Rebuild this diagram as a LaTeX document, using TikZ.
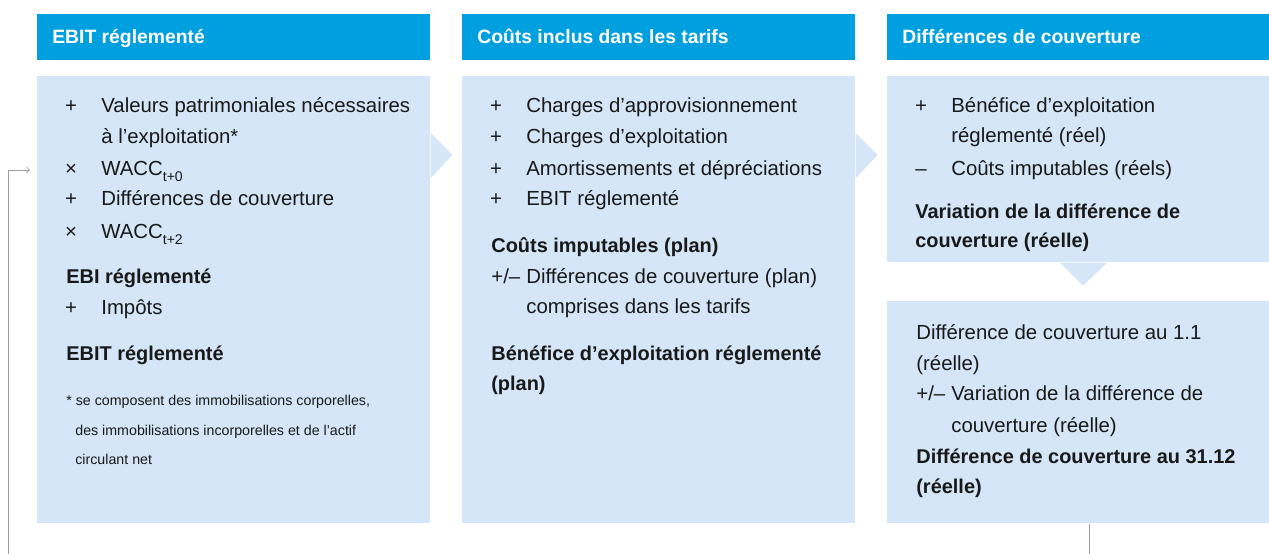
\documentclass[tikz,border=0pt]{standalone}
\usepackage{fontspec}
\setmainfont{Liberation Sans}
\usetikzlibrary{calc}
\definecolor{hdrblue}{RGB}{0,159,224}
\definecolor{bodyblue}{RGB}{212,230,247}
\definecolor{ink}{RGB}{25,25,25}
\newcommand{\wsub}[1]{\raisebox{-0.6ex}{\fontsize{8}{9}\selectfont #1}}
\tikzset{
    hdr/.style={fill=hdrblue, inner sep=0pt, anchor=north west, minimum height=0.92cm},
    panel/.style={fill=bodyblue, inner sep=0pt, anchor=north west},
    hdrtxt/.style={anchor=base west, inner sep=0pt, text=white, font=\fontsize{11}{14}\selectfont\bfseries},
    txt/.style={anchor=base west, inner sep=0pt, text=ink, font=\fontsize{11.6}{14}\selectfont},
    txtb/.style={txt, font=\fontsize{11.35}{14}\selectfont\bfseries},
    sym/.style={anchor=base, inner sep=0pt, text=ink, font=\fontsize{11.6}{14}\selectfont},
    note/.style={anchor=base west, inner sep=0pt, text=ink, font=\fontsize{8.1}{10}\selectfont},
    loopline/.style={draw=gray!75, line width=0.5pt}
}
\begin{document}
\begin{tikzpicture}[x=0.02cm, y=-0.02cm]
    \useasboundingbox (0,0) rectangle (1269,554);

    % headers
    \node[hdr, minimum width=7.86cm] (h1) at (37,14) {};
    \node[hdr, minimum width=7.86cm] (h2) at (462,14) {};
    \node[hdr, minimum width=7.64cm] (h3) at (887,14) {};
    \node[hdrtxt] (h1t) at (52,44) {EBIT réglementé};
    \node[hdrtxt] (h2t) at (477,44) {Coûts inclus dans les tarifs};
    \node[hdrtxt] (h3t) at (902,44) {Différences de couverture};

    % panels
    \node[panel, minimum width=7.86cm, minimum height=8.94cm] (box1) at (37,76) {};
    \node[panel, minimum width=7.86cm, minimum height=8.94cm] (box2) at (462,76) {};
    \node[panel, minimum width=7.64cm, minimum height=3.72cm] (box3) at (887,76) {};
    \node[panel, minimum width=7.64cm, minimum height=4.44cm] (box4) at (887,301) {};

    % pointers
    \fill[bodyblue] ($(box1.north east)+(0,57)$) -- ++(22,22) -- ++(-22,23) -- cycle;
    \fill[bodyblue] ($(box2.north east)+(0,57)$) -- ++(22,22) -- ++(-22,23) -- cycle;
    \fill[bodyblue] ($(box3.south west)+(173,0)$) -- ++(23,23) -- ++(24,-23) -- cycle;

    % box 1
    \node[sym] (s11) at (71,113) {+};
    \node[txt] (l11) at (101,113) {Valeurs patrimoniales nécessaires};
    \node[txt] (l12) at (101,144) {à l’exploitation*};
    \node[sym] (s13) at (71,175) {×};
    \node[txt] (l13) at (101,175) {WACC\wsub{t+0}};
    \node[sym] (s14) at (71,206) {+};
    \node[txt] (l14) at (101,206) {Différences de couverture};
    \node[sym] (s15) at (71,238) {×};
    \node[txt] (l15) at (101,238) {WACC\wsub{t+2}};
    \node[txtb] (l16) at (66,283) {EBI réglementé};
    \node[sym] (s17) at (71,315) {+};
    \node[txt] (l17) at (101,315) {Impôts};
    \node[txtb] (l18) at (66,360) {EBIT réglementé};
    \node[note] (n11) at (66,405) {* se composent des immobilisations corporelles,};
    \node[note] (n12) at (75,435) {des immobilisations incorporelles et de l’actif};
    \node[note] (n13) at (75,464) {circulant net};

    % box 2
    \node[sym] (s21) at (496,113) {+};
    \node[txt] (l21) at (526,113) {Charges d’approvisionnement};
    \node[sym] (s22) at (496,144) {+};
    \node[txt] (l22) at (526,144) {Charges d’exploitation};
    \node[sym] (s23) at (496,175) {+};
    \node[txt] (l23) at (526,175) {Amortissements et dépréciations};
    \node[sym] (s24) at (496,206) {+};
    \node[txt] (l24) at (526,206) {EBIT réglementé};
    \node[txtb] (l25) at (491,253) {Coûts imputables (plan)};
    \node[txt] (s26) at (491,283) {+/–};
    \node[txt] (l26) at (526,283) {Différences de couverture (plan)};
    \node[txt] (l27) at (526,314) {comprises dans les tarifs};
    \node[txtb] (l28) at (491,360) {Bénéfice d’exploitation réglementé};
    \node[txtb] (l29) at (491,390) {(plan)};

    % box 3
    \node[sym] (s31) at (921,113) {+};
    \node[txt] (l31) at (951,113) {Bénéfice d’exploitation};
    \node[txt] (l32) at (951,143) {réglementé (réel)};
    \node[sym] (s33) at (921,175) {–};
    \node[txt] (l33) at (951,175) {Coûts imputables (réels)};
    \node[txtb] (l34) at (915,218) {Variation de la différence de};
    \node[txtb] (l35) at (915,248) {couverture (réelle)};

    % box 4
    \node[txt] (l41) at (916,339) {Différence de couverture au 1.1};
    \node[txt] (l42) at (916,370) {(réelle)};
    \node[txt] (s43) at (916,400) {+/–};
    \node[txt] (l43) at (951,400) {Variation de la différence de};
    \node[txt] (l44) at (951,432) {couverture (réelle)};
    \node[txtb] (l45) at (916,463) {Différence de couverture au 31.12};
    \node[txtb] (l46) at (916,493) {(réelle)};

    % feedback loop
    \coordinate (loopin) at ($(box1.north west)+(-7,94)$);
    \draw[loopline, ->] ($(box4.south west)+(202,0)$) -- ++(0,60) -| (8,170) -- (loopin);
\end{tikzpicture}
\end{document}
